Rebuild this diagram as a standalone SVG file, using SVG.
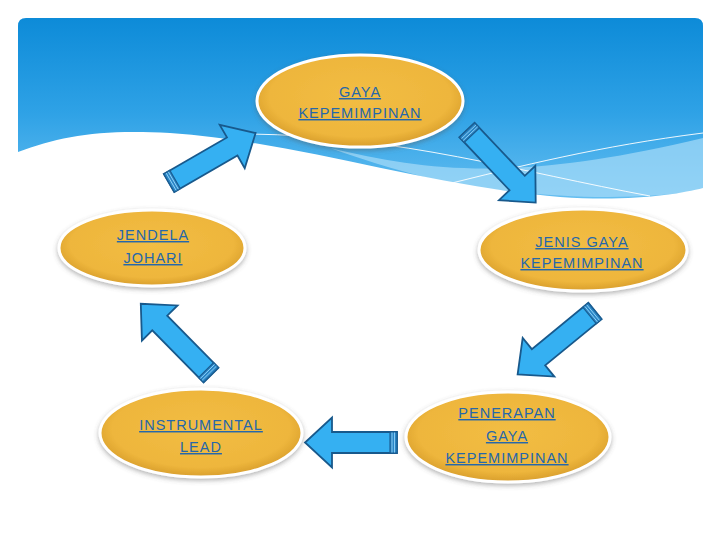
<svg xmlns="http://www.w3.org/2000/svg" width="720" height="540" viewBox="0 0 720 540">
<defs>
<linearGradient id="sky" x1="0" y1="0" x2="0" y2="1">
<stop offset="0" stop-color="#0d8bd8"/>
<stop offset="0.5" stop-color="#2fa2e6"/>
<stop offset="1" stop-color="#6cc2f2"/>
</linearGradient>
<radialGradient id="gold" cx="0.5" cy="0.45" r="0.55">
<stop offset="0" stop-color="#f2bd44"/>
<stop offset="0.8" stop-color="#eeb63c"/>
<stop offset="1" stop-color="#d89e2c"/>
</radialGradient>
<filter id="sh" x="-20%" y="-20%" width="140%" height="150%">
<feDropShadow dx="0" dy="2" stdDeviation="2.5" flood-color="#555" flood-opacity="0.45"/>
</filter>
<path id="arr" d="M0,-10.5 L73,-10.5 L73,-25 L100,0 L73,25 L73,10.5 L0,10.5 Z"/>
<g id="tail">
<rect x="0" y="-10.5" width="7" height="21" fill="#2a86c6" stroke="#1b5e93" stroke-width="1.2"/>
<line x1="2.5" y1="-10" x2="2.5" y2="10" stroke="#9fdcff" stroke-width="0.8"/>
<line x1="5" y1="-10" x2="5" y2="10" stroke="#9fdcff" stroke-width="0.8"/>
</g>
</defs>
<style>
.ell{fill:url(#gold);stroke:#ffffff;stroke-width:3;filter:url(#sh)}
.lbl{font-family:"Liberation Sans",Arial,sans-serif;font-size:14.5px;letter-spacing:1px;fill:#2567ab;text-anchor:middle;text-decoration:underline}
.ar{fill:#35b0f2;stroke:#18598c;stroke-width:1.8;stroke-linejoin:miter}
</style>
<rect x="0" y="0" width="720" height="540" fill="#ffffff"/>
<g id="background">
<path d="M18,26 Q18,18 26,18 L695,18 Q703,18 703,26 L703,210 L18,210 Z" fill="url(#sky)"/>
<path d="M330,148 C430,172 520,182 703,138 L703,190 C640,200 560,200 460,185 C410,175 370,162 330,148 Z" fill="#a6dbf8" opacity="0.7"/>
<path d="M18,152 C60,136 100,129 170,133 C300,142 420,185 560,197 C630,202 680,194 703,188 L703,540 L18,540 Z" fill="#ffffff"/>
<path d="M250,134 C400,136 520,172 650,196" fill="none" stroke="#ffffff" stroke-width="1" opacity="0.9"/>
<path d="M440,186 C520,166 600,146 703,133" fill="none" stroke="#ffffff" stroke-width="1" opacity="0.9"/>
</g>
<g id="connectors">
<g transform="translate(169,183) rotate(-30)"><use href="#arr" class="ar"/><use href="#tail"/></g>
<g transform="translate(467,130) rotate(46.6)"><use href="#arr" class="ar"/><use href="#tail"/></g>
<g transform="translate(595,311) rotate(140.7)"><use href="#arr" class="ar"/><use href="#tail"/></g>
<g transform="translate(397,442.5) rotate(180)"><path d="M0,-10.5 L65,-10.5 L65,-25 L92,0 L65,25 L65,10.5 L0,10.5 Z" class="ar"/><use href="#tail"/></g>
<g transform="translate(211,375) rotate(-134.6)"><use href="#arr" class="ar"/><use href="#tail"/></g>
</g>
<g id="node-gaya">
<ellipse class="ell" cx="360" cy="101" rx="103" ry="46"/>
<text class="lbl" x="360" y="97">GAYA</text>
<text class="lbl" x="360" y="118">KEPEMIMPINAN</text>
</g>
<g id="node-jendela">
<ellipse class="ell" cx="152" cy="248" rx="93" ry="38"/>
<text class="lbl" x="153" y="240">JENDELA</text>
<text class="lbl" x="153" y="263">JOHARI</text>
</g>
<g id="node-jenis">
<ellipse class="ell" cx="583" cy="250" rx="104" ry="41"/>
<text class="lbl" x="582" y="247">JENIS GAYA</text>
<text class="lbl" x="582" y="268">KEPEMIMPINAN</text>
</g>
<g id="node-instrumental">
<ellipse class="ell" cx="201" cy="433" rx="101" ry="44"/>
<text class="lbl" x="201" y="430">INSTRUMENTAL</text>
<text class="lbl" x="201" y="452">LEAD</text>
</g>
<g id="node-penerapan">
<ellipse class="ell" cx="508" cy="437" rx="102" ry="45"/>
<text class="lbl" x="507" y="418">PENERAPAN</text>
<text class="lbl" x="507" y="441">GAYA</text>
<text class="lbl" x="507" y="463">KEPEMIMPINAN</text>
</g>
</svg>
